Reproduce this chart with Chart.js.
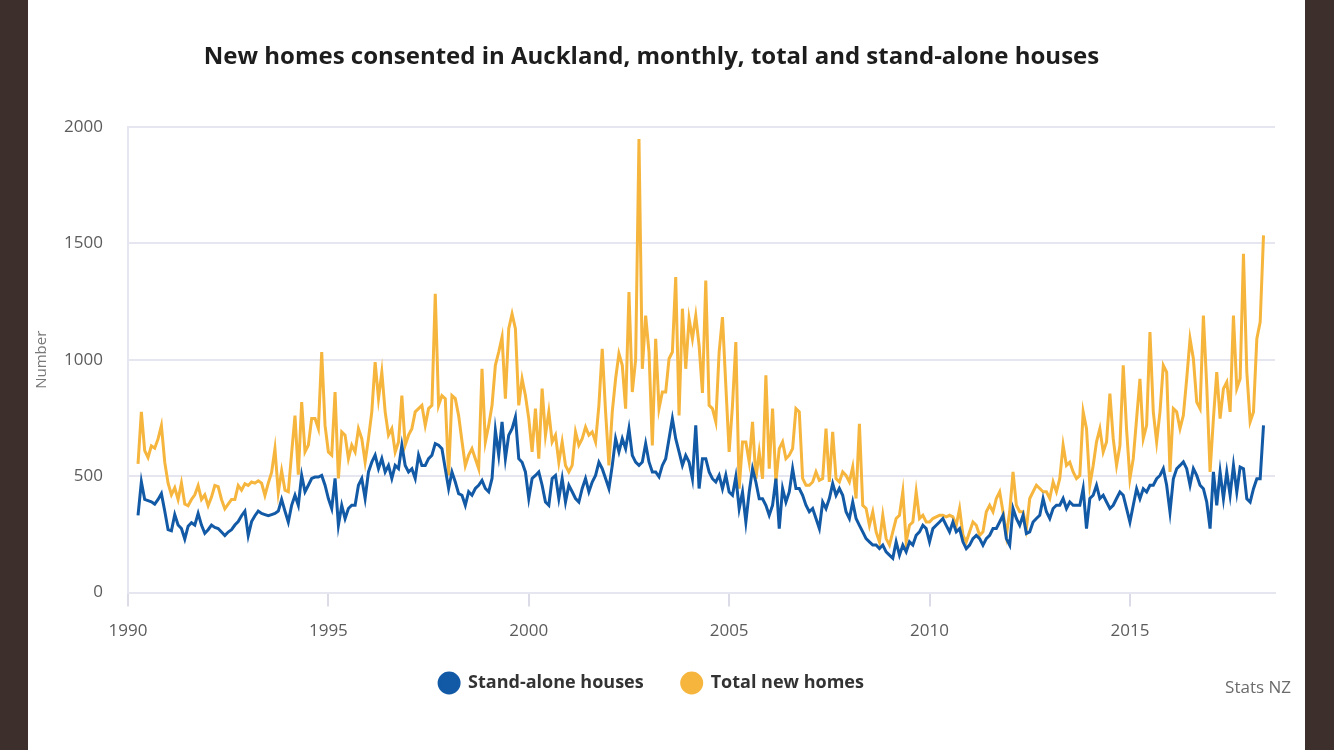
<!DOCTYPE html>
<html>
<head>
<meta charset="utf-8">
<script src="https://cdn.jsdelivr.net/npm/chart.js@4.4.1/dist/chart.umd.min.js"></script>
<style>
    html, body { margin: 0; padding: 0; }
    body { width: 1334px; height: 750px; background: #3d2f2b; position: relative; overflow: hidden; font-family: "Open Sans", sans-serif; }
    .panel { position: absolute; left: 28px; top: 0; width: 1277px; height: 750px; background: #ffffff; }
    .chart-box { position: absolute; left: 0; top: 0; width: 1300px; height: 750px; }
    .source { position: absolute; right: 43px; top: 675px; font-size: 17px; color: #6b6b6b; }
</style>
</head>
<body>
<div class="panel"></div>
<div class="chart-box"><canvas id="homesChart"></canvas></div>
<div class="source">Stats NZ</div>
<script>
// Series start in April 1990, one value per month
const startYear = 1990;
const startMonth = 4;

const standAlone = [
    332, 476, 400, 395, 390, 380, 400, 425, 350,                 // 1990 Apr-Dec
    270, 265, 335, 290, 275, 230, 285, 300, 290, 340, 290, 255,  // 1991
    270, 290, 280, 275, 260, 245, 260, 270, 290, 305, 330, 350,  // 1992
    245, 305, 330, 350, 340, 335, 330, 335, 340, 350, 400, 350,  // 1993
    303, 375, 418, 375, 503, 433, 461, 490, 496, 496, 503, 461,  // 1994
    404, 361, 490, 289, 375, 318, 361, 375, 375, 461, 490, 404,  // 1995
    518, 560, 590, 532, 575, 518, 546, 490, 546, 532, 633, 546,  // 1996
    518, 532, 490, 590, 546, 546, 575, 590, 640, 633, 618, 532,  // 1997
    447, 518, 475, 425, 418, 375, 433, 418, 447, 461, 482, 447,  // 1998
    433, 490, 697, 590, 733, 575, 676, 704, 754, 575, 560, 518,  // 1999
    404, 490, 503, 518, 461, 389, 375, 490, 503, 404, 490, 389,  // 2000
    461, 433, 404, 389, 447, 490, 433, 475, 503, 560, 532, 490,  // 2001
    447, 546, 661, 604, 661, 618, 704, 589, 560, 546, 561, 640,  // 2002
    561, 518, 518, 497, 546, 575, 661, 747, 661, 604, 546, 589,  // 2003
    561, 489, 718, 447, 575, 575, 518, 489, 475, 504, 446, 504,  // 2004
    432, 418, 497, 360, 432, 303, 432, 532, 475, 403, 403, 375,  // 2005
    332, 375, 489, 275, 447, 389, 432, 532, 447, 447, 418, 375,  // 2006
    347, 361, 318, 275, 389, 361, 404, 468, 418, 447, 418, 347,  // 2007
    318, 389, 318, 289, 261, 232, 218, 204, 204, 189, 204, 175,  // 2008
    161, 147, 218, 161, 204, 175, 218, 204, 246, 261, 289, 275,  // 2009
    218, 275, 289, 303, 318, 289, 261, 303, 261, 275, 218, 189,  // 2010
    204, 232, 246, 232, 204, 232, 246, 275, 275, 303, 332, 232,  // 2011
    204, 361, 318, 289, 332, 254, 261, 303, 318, 332, 404, 347,  // 2012
    318, 361, 375, 375, 404, 361, 389, 375, 375, 375, 447, 275,  // 2013
    404, 418, 461, 404, 418, 389, 361, 375, 404, 432, 418, 361,  // 2014
    303, 375, 446, 403, 446, 432, 461, 461, 489, 503, 532, 461,  // 2015
    346, 489, 532, 546, 561, 532, 461, 532, 503, 461, 446, 389,  // 2016
    275, 518, 375, 518, 403, 518, 418, 546, 432, 539, 532, 403,  // 2017
    389, 446, 489, 489, 718                                      // 2018 Jan-May
];

const totalHomes = [
    553, 776, 610, 580, 630, 620, 660, 717, 560,                 // 1990 Apr-Dec
    470, 420, 450, 400, 470, 380, 373, 400, 420, 459, 400, 420,  // 1991
    373, 410, 460, 455, 400, 360, 380, 400, 400, 460, 440, 467,  // 1992
    460, 475, 470, 480, 470, 417, 470, 516, 617, 430, 523, 440,  // 1993
    433, 600, 760, 506, 818, 604, 633, 747, 747, 704, 1033, 718, // 1994
    604, 590, 861, 490, 690, 676, 575, 633, 604, 704, 661, 560,  // 1995
    661, 776, 990, 833, 947, 776, 676, 704, 604, 647, 846, 633,  // 1996
    676, 704, 776, 790, 804, 718, 790, 804, 1283, 804, 846, 833, // 1997
    503, 846, 833, 760, 650, 545, 590, 618, 575, 532, 961, 647,  // 1998
    718, 804, 976, 1033, 1097, 833, 1133, 1197, 1133, 804, 918, 846, // 1999
    747, 604, 790, 575, 876, 676, 776, 647, 676, 560, 647, 546,  // 2000
    518, 546, 690, 633, 661, 711, 676, 690, 647, 804, 1047, 776, // 2001
    546, 776, 918, 1026, 976, 790, 1290, 861, 1000, 1948, 961, 1189, // 2002
    1033, 632, 1090, 790, 861, 861, 1004, 1033, 1355, 761, 1219, 961, // 2003
    1176, 1090, 1189, 1061, 857, 1340, 804, 790, 733, 1033, 1183, 890, // 2004
    604, 804, 1076, 446, 647, 647, 561, 733, 489, 604, 489, 933, // 2005
    532, 790, 475, 618, 647, 575, 590, 618, 790, 776, 490, 461,  // 2006
    461, 475, 518, 482, 490, 704, 475, 690, 490, 475, 518, 503,  // 2007
    475, 539, 404, 725, 375, 361, 289, 347, 261, 218, 332, 232,  // 2008
    204, 261, 318, 332, 433, 218, 289, 303, 433, 318, 332, 303,  // 2009
    303, 318, 325, 332, 332, 325, 332, 325, 289, 361, 246, 218,  // 2010
    261, 303, 289, 246, 261, 347, 375, 347, 404, 433, 347, 246,  // 2011
    347, 518, 375, 347, 347, 275, 404, 433, 461, 447, 433, 433,  // 2012
    404, 475, 433, 490, 633, 546, 560, 518, 490, 503, 776, 704,  // 2013
    461, 546, 647, 704, 604, 647, 854, 661, 546, 630, 976, 700,  // 2014
    489, 575, 747, 918, 661, 718, 1119, 776, 647, 776, 976, 947, // 2015
    518, 790, 776, 704, 761, 918, 1090, 1004, 818, 790, 1190, 890, // 2016
    518, 747, 947, 747, 876, 904, 776, 1190, 876, 918, 1455, 947, // 2017
    733, 776, 1090, 1162, 1534                                   // 2018 Jan-May
];

const yearTicks = [1990, 1995, 2000, 2005, 2010, 2015];
const yTicks = [0, 500, 1000, 1500, 2000];

// posición de cada mes en años decimales
function toPoints(values) {
    return values.map((v, i) => ({ x: startYear + (startMonth - 1 + i) / 12, y: v }));
}

const fontFamily = '"Open Sans", sans-serif';
const gridColor = '#e6e6f0';

const ctx = document.getElementById('homesChart').getContext('2d');
new Chart(ctx, {
    type: 'line',
    data: {
        datasets: [{
            label: 'Stand-alone houses',
            data: toPoints(standAlone),
            borderColor: '#1259a6',
            backgroundColor: '#1259a6',
            borderWidth: 3,
            pointRadius: 0,
            tension: 0
        }, {
            label: 'Total new homes',
            data: toPoints(totalHomes),
            borderColor: '#f6b53d',
            backgroundColor: '#f6b53d',
            borderWidth: 3,
            pointRadius: 0,
            tension: 0
        }]
    },
    options: {
        responsive: true,
        maintainAspectRatio: false,
        animation: false,
        layout: { padding: { left: 28, right: 25, top: 0, bottom: 48 } },
        plugins: {
            title: {
                display: true,
                text: 'New homes consented in Auckland, monthly, total and stand-alone houses',
                color: '#1d1d1d',
                font: { family: fontFamily, size: 24, weight: 'bold' },
                padding: { top: 43, bottom: 55 }
            },
            legend: {
                position: 'bottom',
                labels: {
                    usePointStyle: true,
                    pointStyle: 'circle',
                    pointStyleWidth: 20,
                    boxHeight: 14,
                    padding: 38,
                    color: '#333333',
                    font: { family: fontFamily, size: 18, weight: 'bold' }
                }
            },
            tooltip: { enabled: false }
        },
        scales: {
            x: {
                type: 'linear',
                min: 1990,
                max: 2018.62,
                afterBuildTicks: scale => {
                    scale.ticks = yearTicks.map(v => ({ value: v }));
                },
                afterFit: scale => { scale.height -= 19; },
                grid: { drawOnChartArea: false, drawTicks: true, tickLength: 14, color: '#dcdce8', lineWidth: 2 },
                border: { display: true, color: gridColor, width: 2 },
                ticks: {
                    color: '#5c5c5c',
                    padding: 14,
                    font: { family: fontFamily, size: 17 },
                    callback: v => String(v)
                }
            },
            y: {
                min: 0,
                max: 2000,
                afterBuildTicks: scale => {
                    scale.ticks = yTicks.map(v => ({ value: v }));
                },
                afterFit: scale => { scale.width = 100; },
                grid: { color: gridColor, lineWidth: 2, drawTicks: false },
                border: { display: true, color: gridColor, width: 2 },
                ticks: {
                    color: '#5c5c5c',
                    padding: 25,
                    font: { family: fontFamily, size: 17 },
                    callback: v => String(v)
                },
                title: {
                    display: true,
                    text: 'Number',
                    color: '#777777',
                    font: { family: fontFamily, size: 15 },
                    padding: { top: 5, bottom: 0 }
                }
            }
        }
    }
});
</script>
</body>
</html>
